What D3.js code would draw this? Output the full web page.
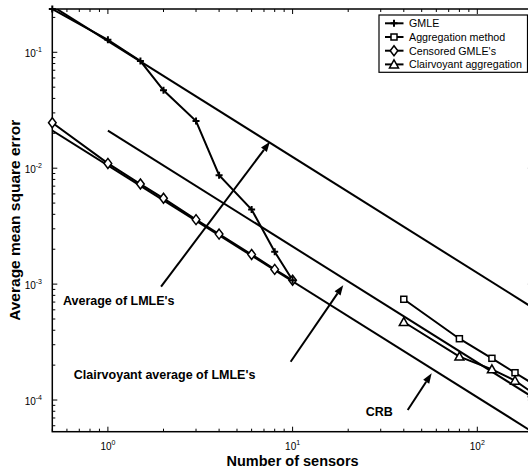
<!DOCTYPE html>
<html>
<head>
<meta charset="utf-8">
<script src="https://cdn.jsdelivr.net/npm/d3@7"></script>
<style>
    body { margin: 0; background: #fff; }
    text { font-family: "Liberation Sans", Arial, Helvetica, sans-serif; fill: #000; }
</style>
</head>
<body>
<svg id="plot" width="528" height="471"></svg>
<script>

// Data (log-log axes).

const smallN = [0.5, 1, 1.5, 2, 3, 4, 6, 8, 10];
const gmle = [0.236, 0.128, 0.084, 0.047, 0.0255, 0.0087, 0.0044, 0.0019, 0.00108];
const censored = [0.0247, 0.0110, 0.0073, 0.0055, 0.0036, 0.0027, 0.0018, 0.00134, 0.00108];

const largeN = [40, 80, 120, 160, 200];
const aggregation = [0.00074, 0.000338, 0.000229, 0.000172, 0.000138];
const clairAggregation = [0.000471, 0.000237, 0.000184, 0.000147, 0.000115];

// Straight reference lines (end points only).
const avgN = [0.5, 200];
const avgLmle = [0.25, 0.000625];
const clairAvgN = [1, 200];
const clairAvgLmle = [0.0211, 0.0001055];
const crbN = [0.5, 200];
const crb = [0.0211, 0.0000528];

// Annotations, in data units.
const noteText = ["Average of LMLE's", "Clairvoyant average of LMLE's", "CRB"];
const noteAt = [[0.571, 0.00066], [0.654, 0.000151], [24.9, 0.0000728]];
const arrowFrom = [[1.94, 0.00095], [9.76, 0.000214], [42.0, 0.000082]];
const arrowTo = [[7.54, 0.0169], [18.8, 0.00098], [56.6, 0.00017]];

const legendNames = ["GMLE", "Aggregation method", "Censored GMLE's", "Clairvoyant aggregation"];
const legendMarks = ["plus", "square", "diamond", "triangle"];

//----------------------------------------------------------------------------//
//                                    AXES                                    //
//----------------------------------------------------------------------------//

const plot = d3.select("#plot");

const box = { L: 52.3, R: 532.9, T: 9, B: 431.7 };

const xScale = d3.scaleLog().domain([0.5, 200]).range([box.L, box.R]);
const yScale = d3.scaleLog().domain([5.33e-5, 0.2363]).range([box.B, box.T]);

const isMajor = v => Math.abs(Math.log10(v) - Math.round(Math.log10(v))) < 1e-9;

plot.append("clipPath").attr("id", "clip")
    .append("rect")
        .attr("x", box.L).attr("y", box.T)
        .attr("width", box.R - box.L).attr("height", box.B - box.T);

const ticks = plot.append("g").attr("stroke", "#000").attr("stroke-width", 1);

xScale.ticks().forEach(v => {
    const len = isMajor(v) ? 5 : 3;
    const px = xScale(v);
    ticks.append("line").attr("x1", px).attr("x2", px).attr("y1", box.B).attr("y2", box.B - len);
    ticks.append("line").attr("x1", px).attr("x2", px).attr("y1", box.T).attr("y2", box.T + len);
});

yScale.ticks().forEach(v => {
    const len = isMajor(v) ? 5 : 3;
    const py = yScale(v);
    ticks.append("line").attr("x1", box.L).attr("x2", box.L + len).attr("y1", py).attr("y2", py);
    ticks.append("line").attr("x1", box.R).attr("x2", box.R - len).attr("y1", py).attr("y2", py);
});

// Tick labels as 10^k.

function powerLabel(g, v, px, py, anchor) {
    const t = g.append("text")
        .attr("x", px).attr("y", py)
        .attr("text-anchor", anchor)
        .attr("font-size", 10);
    t.append("tspan").text("10");
    t.append("tspan").attr("dy", -5).attr("font-size", 7).text(Math.round(Math.log10(v)));
}

const labels = plot.append("g");
xScale.ticks().filter(isMajor).forEach(v => powerLabel(labels, v, xScale(v), 450, "middle"));
yScale.ticks().filter(isMajor).forEach(v => powerLabel(labels, v, 42, yScale(v) + 4.5, "end"));

plot.append("rect")
    .attr("x", box.L).attr("y", box.T)
    .attr("width", box.R - box.L).attr("height", box.B - box.T)
    .attr("fill", "none").attr("stroke", "#000").attr("stroke-width", 1.5);

plot.append("text")
    .text("Number of sensors")
    .attr("x", (box.L + box.R) / 2).attr("y", 466)
    .attr("text-anchor", "middle")
    .attr("font-weight", "bold").attr("font-size", 14.5);

plot.append("text")
    .text("Average mean square error")
    .attr("transform", `translate(20, ${(box.T + box.B) / 2}) rotate(-90)`)
    .attr("text-anchor", "middle")
    .attr("font-weight", "bold").attr("font-size", 15.5);

//----------------------------------------------------------------------------//
//                                    PLOT                                    //
//----------------------------------------------------------------------------//

const line = d3.line()
    .x(d => xScale(d[0]))
    .y(d => yScale(d[1]));

const lines = plot.append("g")
    .attr("clip-path", "url(#clip)")
    .attr("fill", "none").attr("stroke", "#000").attr("stroke-width", 2);

[[avgN, avgLmle], [clairAvgN, clairAvgLmle], [crbN, crb],
 [smallN, gmle], [smallN, censored], [largeN, aggregation], [largeN, clairAggregation]]
    .forEach(([xs, ys]) => lines.append("path").attr("d", line(d3.zip(xs, ys))));

function drawMarker(g, type, cx, cy) {
    const m = g.append("g")
        .attr("transform", `translate(${cx},${cy})`)
        .attr("stroke", "#000").attr("stroke-width", 1.5).attr("fill", "#fff");
    if (type === "plus") {
        m.append("path").attr("d", "M-3.5,0H3.5M0,-3.5V3.5").attr("stroke-width", 2);
    } else if (type === "square") {
        m.append("rect").attr("x", -3).attr("y", -3).attr("width", 6).attr("height", 6);
    } else if (type === "diamond") {
        m.append("path").attr("d", "M0,-5L3.8,0L0,5L-3.8,0Z");
    } else {
        m.append("path").attr("d", "M0,-4.5L4.5,3.5L-4.5,3.5Z");
    }
}

const marks = plot.append("g");
smallN.forEach((n, i) => drawMarker(marks, "diamond", xScale(n), yScale(censored[i])));
smallN.forEach((n, i) => drawMarker(marks, "plus", xScale(n), yScale(gmle[i])));
largeN.forEach((n, i) => drawMarker(marks, "square", xScale(n), yScale(aggregation[i])));
largeN.forEach((n, i) => drawMarker(marks, "triangle", xScale(n), yScale(clairAggregation[i])));

// Annotation arrows and their labels.

const notes = plot.append("g");
noteText.forEach((txt, i) => {
    const x0 = xScale(arrowFrom[i][0]), y0 = yScale(arrowFrom[i][1]);
    const x1 = xScale(arrowTo[i][0]), y1 = yScale(arrowTo[i][1]);
    const a = Math.atan2(y1 - y0, x1 - x0);
    const hl = 10, hw = 3.6;
    const bx = x1 - hl * Math.cos(a), by = y1 - hl * Math.sin(a);
    notes.append("line")
        .attr("x1", x0).attr("y1", y0).attr("x2", bx).attr("y2", by)
        .attr("stroke", "#000").attr("stroke-width", 2);
    notes.append("path")
        .attr("d", `M${x1},${y1}L${bx + hw * Math.sin(a)},${by - hw * Math.cos(a)}L${bx - hw * Math.sin(a)},${by + hw * Math.cos(a)}Z`)
        .attr("fill", "#000");
    notes.append("text")
        .text(txt)
        .attr("x", xScale(noteAt[i][0])).attr("y", yScale(noteAt[i][1]))
        .attr("font-weight", "bold").attr("font-size", 12.5);
});

//----------------------------------------------------------------------------//
//                                   LEGEND                                   //
//----------------------------------------------------------------------------//

const legend = plot.append("g");
legend.append("rect")
    .attr("x", 379).attr("y", 15).attr("width", 148.5).attr("height", 57.3)
    .attr("fill", "#fff").attr("stroke", "#000").attr("stroke-width", 1.2);

legendNames.forEach((name, i) => {
    const cy = 23.3 + i * 13.7;
    legend.append("line")
        .attr("x1", 385).attr("x2", 403.5).attr("y1", cy).attr("y2", cy)
        .attr("stroke", "#000").attr("stroke-width", 2);
    drawMarker(legend, legendMarks[i], 394, cy);
    legend.append("text")
        .text(name)
        .attr("x", 409).attr("y", cy + 3.8)
        .attr("font-size", 10.7);
});

</script>
</body>
</html>
